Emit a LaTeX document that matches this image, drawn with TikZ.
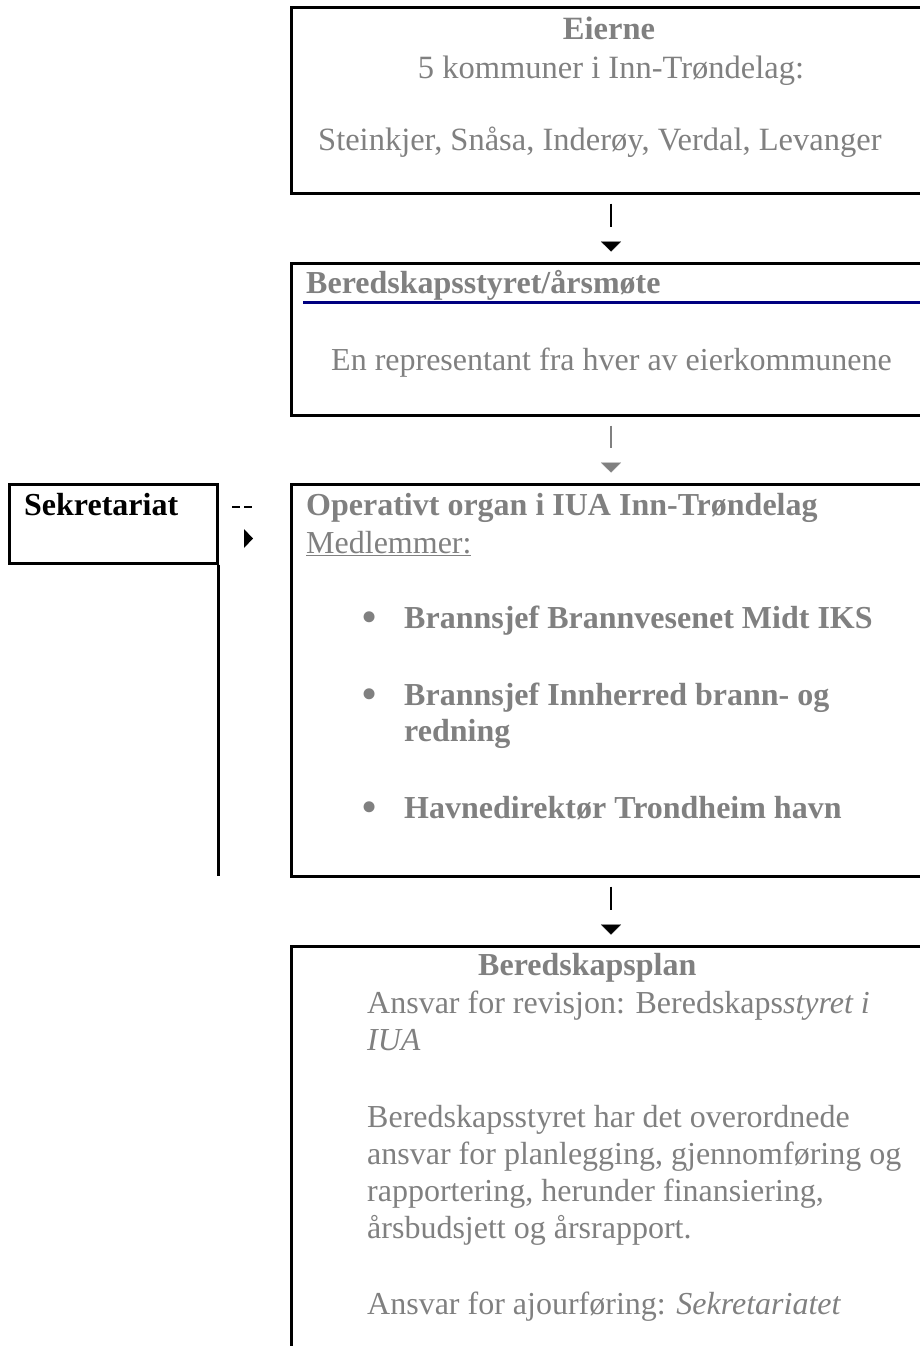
\documentclass[tikz,border=0pt]{standalone}
\usepackage{fontspec}
\setmainfont{Liberation Serif}
\usetikzlibrary{arrows.meta}
\definecolor{txtgray}{RGB}{128,128,128}
\definecolor{navyline}{RGB}{0,0,128}
\begin{document}
\begin{tikzpicture}[x=1pt, y=-1pt,
  box/.style={draw, line width=3pt, inner sep=0pt},
  txt/.style={inner sep=0pt, anchor=base west, text=txtgray, font=\fontsize{32}{37}\selectfont},
  btxt/.style={txt, font=\fontsize{32}{37}\selectfont\bfseries},
  ctxt/.style={txt, anchor=base},
  bul/.style={txt, anchor=base, font=\fontsize{46}{37}\selectfont},
  connline/.style={line width=1.3pt, shorten <=9pt, shorten >=35pt},
  conntip/.style={line width=0.1pt, shorten <=50pt, shorten >=10pt, -{Triangle[width=20pt,length=10pt]}}]
\useasboundingbox (0,0) rectangle (920,1346);

\node [box, minimum width=640pt, minimum height=185pt] (eier) at (611,100.5) {};
\node [box, minimum width=640pt, minimum height=152pt] (styre) at (611,339) {};
\node [box, minimum width=640pt, minimum height=392pt] (organ) at (611,680) {};
\node [box, minimum width=640pt, minimum height=420pt] (plan) at (611,1156) {};
\node [box, minimum width=208pt, minimum height=79pt] (sekr) at (113,523.5) {};
\draw [line width=3pt] (sekr.south east) -- ++(0,311);

\node [ctxt, font=\fontsize{32.5}{37}\selectfont\bfseries] (eiertitle) at (609,40) {Eierne};
\node [ctxt, font=\fontsize{32.5}{37}\selectfont] (eierant) at (611,78) {5 kommuner i Inn-Trøndelag:};
\node [txt, font=\fontsize{32.5}{37}\selectfont] (eierliste) at (318,150) {Steinkjer, Snåsa, Inderøy, Verdal, Levanger};

\node [btxt] (styretitle) at (306,293) {Beredskapsstyret/årsmøte};
\draw [navyline, line width=3pt] (303,302) -- (931,302);
\node [txt] (styretekst) at (331,370) {En representant fra hver av eierkommunene};

\node [btxt] (organtitle) at (306,515) {Operativt organ i IUA Inn-Trøndelag};
\node [txt] (medlemmer) at (306,553) {\underline{Medlemmer:}};
\node [bul] (bul1) at (370,632) {•};
\node [btxt] (medl1) at (404,628) {Brannsjef Brannvesenet Midt IKS};
\node [bul] (bul2) at (370,709) {•};
\node [btxt] (medl2a) at (404,705) {Brannsjef Innherred brann- og};
\node [btxt] (medl2b) at (404,741) {redning};
\node [bul] (bul3) at (370,822) {•};
\node [btxt] (medl3) at (404,818) {Havnedirektør Trondheim havn};

\node [btxt] (plantitle) at (478,975) {Beredskapsplan};
\node [txt] (revisjon1) at (367,1013) {Ansvar for revisjon: Beredskaps\textit{styret i}};
\node [txt] (revisjon2) at (367,1050) {\textit{IUA}};
\node [txt] (plantekst1) at (367,1127) {Beredskapsstyret har det overordnede};
\node [txt] (plantekst2) at (367,1164) {ansvar for planlegging, gjennomføring og};
\node [txt] (plantekst3) at (367,1201) {rapportering, herunder finansiering,};
\node [txt] (plantekst4) at (367,1238) {årsbudsjett og årsrapport.};
\node [txt] (ajour) at (367,1314) {Ansvar for ajourføring: \textit{Sekretariatet}};

\node [btxt, text=black] (sekrtitle) at (24,515) {Sekretariat};

\draw [connline] (eier.south) -- (styre.north);
\draw [conntip] (eier.south) -- (styre.north);
\draw [connline, txtgray] (styre.south) -- (organ.north);
\draw [conntip, txtgray] (styre.south) -- (organ.north);
\draw [connline] (organ.south) -- (plan.north);
\draw [conntip] (organ.south) -- (plan.north);
\draw [line width=2pt, dash pattern=on 8pt off 4pt] (232,507) -- (252,507);
\fill (244,529) -- (253,538.5) -- (244,548) -- cycle;
\end{tikzpicture}
\end{document}
